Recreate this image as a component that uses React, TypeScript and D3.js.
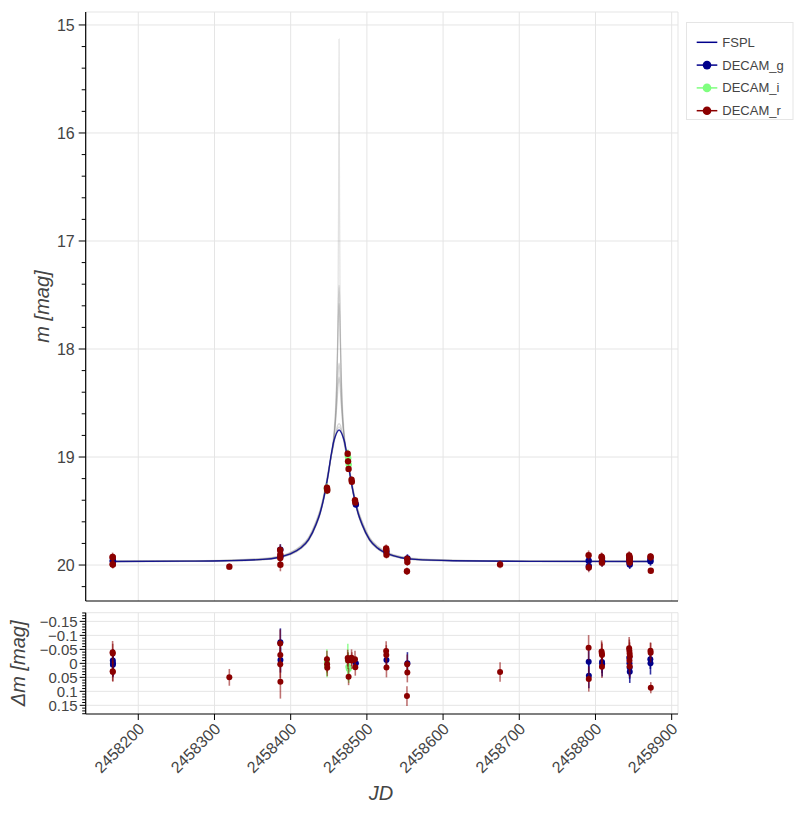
import React from 'react';
import * as d3 from 'd3';

// ---------- data ----------
const T0 = 2458463.5;
// FSPL best model (days from T0, magnitude)
const modelDt = [-298.5, -200, -150, -100, -80, -65, -50, -40, -30, -25, -21, -17.5, -14, -10.9, -9, -7.5, -5, -3, 0,
  3, 5, 7.5, 9, 10.9, 14, 17.5, 21, 25, 30, 40, 50, 65, 80, 100, 150, 250, 409.5];
const modelMag = [19.967, 19.964, 19.96, 19.948, 19.93, 19.9, 19.84, 19.765, 19.62, 19.52, 19.41, 19.29, 19.15, 19.0, 18.925, 18.87, 18.81, 18.775, 18.75,
  18.775, 18.81, 18.87, 18.925, 19.0, 19.15, 19.29, 19.41, 19.52, 19.62, 19.765, 19.84, 19.9, 19.93, 19.948, 19.96, 19.966, 19.967];

// posterior sample models near peak (half-profile: days from peak, magnitude)
const s1Dt = [0, 0.3, 0.7, 1.2, 2, 3, 4, 5, 6.5, 8, 10];
const s1Mag = [15.13, 15.9, 16.7, 17.4, 17.95, 18.25, 18.45, 18.6, 18.75, 18.86, 18.97];
const s2Dt = [0, 0.8, 1.6, 2.5, 3.5, 5, 7, 9, 10];
const s2Mag = [17.41, 17.55, 17.85, 18.15, 18.42, 18.65, 18.83, 18.93, 18.98];
const s3Dt = [0, 0.8, 1.6, 2.5, 3.5, 5, 7, 9, 10];
const s3Mag = [17.58, 17.7, 17.95, 18.2, 18.45, 18.67, 18.84, 18.94, 18.98];
const s4Dt = [0, 1, 2, 3, 4, 5.5, 7, 9, 10];
const s4Mag = [18.13, 18.2, 18.33, 18.48, 18.6, 18.73, 18.84, 18.94, 18.98];
const s5Dt = [0, 1, 2, 3, 4.5, 6, 8, 10];
const s5Mag = [18.26, 18.32, 18.42, 18.53, 18.67, 18.78, 18.9, 18.98];
const s6Dt = [0, 2, 4, 6, 8, 10];
const s6Mag = [18.69, 18.71, 18.77, 18.84, 18.92, 18.98];
const s7Dt = [0, 2, 4, 6, 8, 10];
const s7Mag = [18.72, 18.74, 18.79, 18.85, 18.92, 18.98];
const sampleWingShift = [0, -0.02, 0.01, -0.03, 0, -0.01, 0.015];

// DECAM_g
const gJD = [2458166.6, 2458166.8, 2458166.7, 2458386.5, 2458386.6, 2458485.6, 2458525.7, 2458553.2, 2458791.1, 2458791.3,
  2458808.6, 2458808.8, 2458844.4, 2458844.6, 2458844.8, 2458845.0, 2458872.0, 2458872.2];
const gMag = [19.955, 19.965, 19.97, 19.857, 19.92, 19.44, 19.878, 19.94, 19.96, 20.01,
  19.961, 19.968, 19.946, 19.966, 19.981, 19.996, 19.951, 19.966];
const gRes = [-0.01, 0.0, 0.005, -0.075, -0.012, 0.0, -0.012, 0.0, -0.006, 0.044,
  -0.005, 0.002, -0.02, 0.0, 0.015, 0.03, -0.015, 0.0];
const gErr = [0.04, 0.05, 0.04, 0.05, 0.045, 0.02, 0.03, 0.04, 0.04, 0.045,
  0.04, 0.045, 0.04, 0.045, 0.04, 0.04, 0.035, 0.04];

// DECAM_i
const iJD = [2458447.5, 2458447.7, 2458475.0, 2458475.6, 2458476.2];
const iMag = [19.29, 19.305, 18.99, 19.01, 19.07];
const iRes = [-0.005, 0.01, -0.01, 0.012, 0.02];
const iErr = [0.045, 0.04, 0.06, 0.05, 0.05];

// DECAM_r
const rJD = [2458166.3, 2458166.5, 2458166.4, 2458166.6, 2458319.5,
  2458386.2, 2458386.4, 2458386.3, 2458386.5,
  2458447.6, 2458447.8, 2458448.0,
  2458474.8, 2458475.3, 2458476.0, 2458479.9, 2458480.3, 2458484.4, 2458484.8,
  2458525.3, 2458525.5, 2458525.7,
  2458552.9, 2458553.1, 2458552.6,
  2458674.8,
  2458791.0, 2458791.2,
  2458808.0, 2458808.3, 2458808.6, 2458808.5,
  2458844.2, 2458844.5, 2458844.8, 2458845.1, 2458844.6, 2458844.9,
  2458872.2, 2458872.4, 2458872.6];
const rMag = [19.925, 19.93, 19.993, 19.996, 20.015,
  19.861, 19.902, 19.935, 19.998,
  19.285, 19.295, 19.31,
  18.97, 19.04, 19.11, 19.21, 19.23, 19.40, 19.42,
  19.846, 19.86, 19.905,
  19.943, 19.973, 20.057,
  19.994,
  19.91, 20.022,
  19.924, 19.931, 19.936, 19.978,
  19.912, 19.921, 19.931, 19.941, 19.956, 19.976,
  19.921, 19.928, 20.053];
const rRes = [-0.040, -0.035, 0.028, 0.031, 0.05,
  -0.071, -0.030, 0.003, 0.066,
  -0.015, 0.003, 0.016,
  -0.019, -0.01, 0.048, -0.02, -0.01, -0.015, 0.014,
  -0.044, -0.03, 0.015,
  0.003, 0.033, 0.117,
  0.031,
  -0.056, 0.056,
  -0.042, -0.035, -0.03, 0.012,
  -0.054, -0.045, -0.035, -0.025, -0.01, 0.01,
  -0.045, -0.038, 0.087];
const rErr = [0.04, 0.035, 0.035, 0.035, 0.03,
  0.05, 0.045, 0.05, 0.06,
  0.03, 0.03, 0.03,
  0.03, 0.03, 0.03, 0.03, 0.03, 0.03, 0.03,
  0.035, 0.035, 0.035,
  0.035, 0.035, 0.035,
  0.035,
  0.045, 0.045,
  0.04, 0.04, 0.04, 0.04,
  0.04, 0.04, 0.04, 0.04, 0.04, 0.04,
  0.03, 0.035, 0.02];

const xTicks = [2458200, 2458300, 2458400, 2458500, 2458600, 2458700, 2458800, 2458900];
const magTicks = [15, 16, 17, 18, 19, 20];
const resTicks = [-0.15, -0.1, -0.05, 0, 0.05, 0.1, 0.15];
const resTickLabels = ['\u22120.15', '\u22120.1', '\u22120.05', '0', '0.05', '0.1', '0.15'];

const bands = [
  { name: 'DECAM_g', color: '#00008b', jd: gJD, mag: gMag, res: gRes, err: gErr, barOpacity: 0.8 },
  { name: 'DECAM_i', color: '#7fff7f', jd: iJD, mag: iMag, res: iRes, err: iErr, barOpacity: 0.8 },
  { name: 'DECAM_r', color: '#8b0000', jd: rJD, mag: rMag, res: rRes, err: rErr, barOpacity: 0.55 },
];

// ---------- chart ----------
const FONT = '"Liberation Sans", Arial, Helvetica, sans-serif';
const TXT = '#444';
const GRID = '#e5e5e5';

export default function App() {
  const L = 85.7, R = 678;
  const mTop = 12, mBot = 601;
  const rTop = 612.7, rBot = 714;

  const x = d3.scaleLinear().domain([2458131, 2458908.3]).range([L, R]);
  const y = d3.scaleLinear().domain([14.88, 20.333]).range([mTop, mBot]);
  const yr = d3.scaleLinear().domain([-0.181, 0.181]).range([rTop, rBot]);

  const line = d3.line<[number, number]>()
    .x(d => x(d[0]))
    .y(d => y(d[1]))
    .curve(d3.curveMonotoneX);

  const modelPts: [number, number][] = modelDt.map((d, i) => [T0 + d, modelMag[i]]);

  const samples = [
    [s1Dt, s1Mag], [s2Dt, s2Mag], [s3Dt, s3Mag], [s4Dt, s4Mag], [s5Dt, s5Mag], [s6Dt, s6Mag], [s7Dt, s7Mag],
  ];
  const samplePaths = samples.map(([dts, mags], k) => {
    const shift = sampleWingShift[k];
    const left: [number, number][] = [];
    const right: [number, number][] = [];
    modelDt.forEach((d, i) => {
      if (d <= -14) left.push([T0 + d, modelMag[i] + shift * Math.min(1, 30 / Math.abs(d))]);
      if (d >= 14) right.push([T0 + d, modelMag[i] + shift * Math.min(1, 30 / Math.abs(d))]);
    });
    const peak: [number, number][] = [];
    for (let i = dts.length - 1; i > 0; i--) peak.push([T0 - dts[i], mags[i]]);
    for (let i = 0; i < dts.length; i++) peak.push([T0 + dts[i], mags[i]]);
    return line([...left, ...peak, ...right]) as string;
  });

  const minorMag: number[] = [];
  for (let v = 15.2; v < 20.33; v += 0.2) {
    const r = Math.round(v * 10) / 10;
    if (Math.abs(r - Math.round(r)) > 0.01) minorMag.push(r);
  }
  const minorRes: number[] = [];
  for (let k = -18; k <= 18; k++) if (k % 5 !== 0) minorRes.push(k / 100);

  return (
    <svg width={802} height={813} style={{ position: 'absolute', left: 0, top: 0, background: '#fff' }}
      fontFamily={FONT}>
      <rect x={0} y={0} width={802} height={813} fill="#fff" />
      {/* ===== main panel ===== */}
      <g>
        {xTicks.map(t => (
          <line key={'gx' + t} x1={x(t)} x2={x(t)} y1={mTop} y2={mBot} stroke={GRID} strokeWidth={1} />
        ))}
        {magTicks.map(t => (
          <line key={'gy' + t} x1={L} x2={R} y1={y(t)} y2={y(t)} stroke={GRID} strokeWidth={1} />
        ))}
        <line x1={L} x2={R} y1={mTop} y2={mTop} stroke={GRID} />
        <line x1={R} x2={R} y1={mTop} y2={mBot} stroke={GRID} />

        {samplePaths.map((p, k) => (
          <path key={'s' + k} d={p} fill="none" stroke="#8a8a8a" strokeOpacity={k === 0 ? 0.25 : 0.35} strokeWidth={1.2} />
        ))}
        <path d={line(modelPts) as string} fill="none" stroke="#00008b" strokeWidth={1.4} strokeOpacity={0.85} />

        {bands.map(b => (
          <g key={'m' + b.name}>
            {b.jd.map((j, i) => (
              <line key={'e' + i} x1={x(j)} x2={x(j)} y1={y(b.mag[i] - b.err[i])} y2={y(b.mag[i] + b.err[i])}
                stroke={b.color} strokeOpacity={b.barOpacity} strokeWidth={1.6} />
            ))}
            {b.jd.map((j, i) => (
              <circle key={'c' + i} cx={x(j)} cy={y(b.mag[i])} r={3.2} fill={b.color} />
            ))}
          </g>
        ))}

        {/* axes */}
        <line x1={L} x2={L} y1={mTop} y2={mBot} stroke="#000" strokeWidth={1.2} />
        <line x1={L} x2={R} y1={mBot} y2={mBot} stroke="#000" strokeWidth={1.2} />
        {magTicks.map(t => (
          <g key={'ty' + t}>
            <line x1={L - 7} x2={L} y1={y(t)} y2={y(t)} stroke="#000" strokeWidth={1} />
            <text x={L - 11} y={y(t)} dy="0.35em" textAnchor="end" fontSize={16} fill={TXT}>{t}</text>
          </g>
        ))}
        {minorMag.map(t => (
          <line key={'my' + t} x1={L - 4} x2={L} y1={y(t)} y2={y(t)} stroke="#000" strokeWidth={1} />
        ))}
        <text transform={`translate(${42},${(mTop + mBot) / 2}) rotate(-90)`} textAnchor="middle" dy="0.35em"
          fontSize={20} fontStyle="italic" fill={TXT}>m [mag]</text>
      </g>

      {/* ===== residual panel ===== */}
      <g>
        {xTicks.map(t => (
          <line key={'rgx' + t} x1={x(t)} x2={x(t)} y1={rTop} y2={rBot} stroke={GRID} strokeWidth={1} />
        ))}
        {resTicks.map(t => (
          <line key={'rgy' + t} x1={L} x2={R} y1={yr(t)} y2={yr(t)} stroke={GRID} strokeWidth={1} />
        ))}
        <line x1={L} x2={R} y1={rTop} y2={rTop} stroke={GRID} />
        <line x1={R} x2={R} y1={rTop} y2={rBot} stroke={GRID} />

        {bands.map(b => (
          <g key={'r' + b.name}>
            {b.jd.map((j, i) => (
              <line key={'e' + i} x1={x(j)} x2={x(j)} y1={yr(b.res[i] - b.err[i])} y2={yr(b.res[i] + b.err[i])}
                stroke={b.color} strokeOpacity={b.barOpacity} strokeWidth={1.6} />
            ))}
            {b.jd.map((j, i) => (
              <circle key={'c' + i} cx={x(j)} cy={yr(b.res[i])} r={3} fill={b.color} />
            ))}
          </g>
        ))}

        <line x1={L} x2={L} y1={rTop} y2={rBot} stroke="#000" strokeWidth={1.2} />
        <line x1={L} x2={R} y1={rBot} y2={rBot} stroke="#000" strokeWidth={1.2} />
        {resTicks.map((t, i) => (
          <g key={'rty' + t}>
            <line x1={L - 6} x2={L} y1={yr(t)} y2={yr(t)} stroke="#000" strokeWidth={1} />
            <text x={L - 8} y={yr(t)} dy="0.35em" textAnchor="end" fontSize={15} fill={TXT}>{resTickLabels[i]}</text>
          </g>
        ))}
        {minorRes.map(t => (
          <line key={'mr' + t} x1={L - 3.5} x2={L} y1={yr(t)} y2={yr(t)} stroke="#000" strokeWidth={1} />
        ))}
        {xTicks.map(t => (
          <g key={'tx' + t}>
            <line x1={x(t)} x2={x(t)} y1={rBot} y2={rBot + 6} stroke="#000" strokeWidth={1} />
            <text transform={`translate(${x(t) + 3},${rBot + 12}) rotate(-45)`} textAnchor="end" dy="0.35em"
              fontSize={16} fill={TXT}>{t}</text>
          </g>
        ))}
        <text transform={`translate(${18},${(rTop + rBot) / 2}) rotate(-90)`} textAnchor="middle" dy="0.35em"
          fontSize={20} fontStyle="italic" fill={TXT}>Δm [mag]</text>
        <text x={381} y={793} textAnchor="middle" dy="0.35em" fontSize={20} fontStyle="italic" fill={TXT}>JD</text>
      </g>

      {/* ===== legend ===== */}
      <g>
        <rect x={686.5} y={22.5} width={106.5} height={97} fill="#fff" stroke="#e5e5e5" strokeWidth={1} />
        {[{ name: 'FSPL', color: '#00008b', marker: false },
          ...bands.map(b => ({ name: b.name, color: b.color, marker: true }))].map((e, k) => {
          const cy = 42.3 + k * 22.8;
          return (
            <g key={'lg' + e.name}>
              <line x1={696.7} x2={717.3} y1={cy} y2={cy} stroke={e.color} strokeWidth={1.5} />
              {e.marker && <circle cx={707} cy={cy} r={4.3} fill={e.color} />}
              <text x={722.3} y={cy} dy="0.35em" fontSize={13} fill={TXT}>{e.name}</text>
            </g>
          );
        })}
      </g>
    </svg>
  );
}
